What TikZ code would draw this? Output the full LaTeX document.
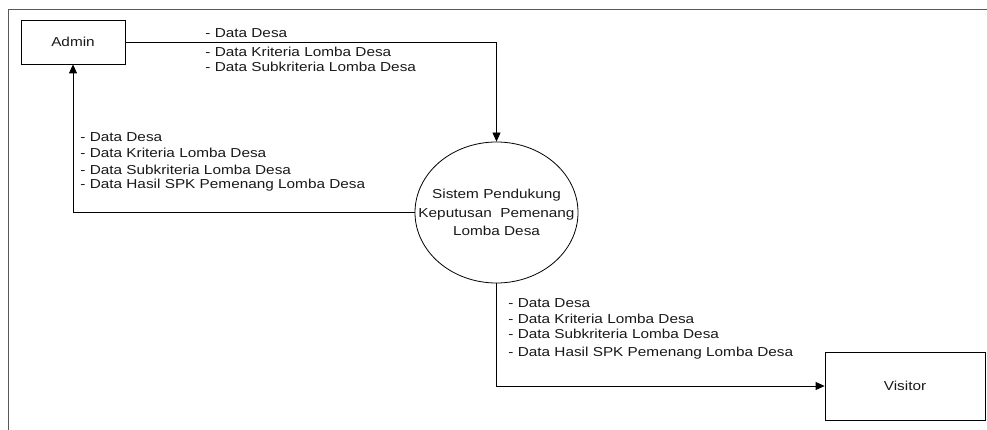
\documentclass[tikz,border=0pt]{standalone}
\usepackage{fontspec}
\setmainfont{Liberation Sans}[FakeStretch=1.18]
\usetikzlibrary{arrows.meta,shapes.geometric}
\begin{document}
\begin{tikzpicture}[x=1pt,y=-1pt,line width=0.8pt,
  txt/.style={font=\fontsize{13}{16}\selectfont,text=black!90},
  lbl/.style={txt,inner sep=0pt,anchor=base west},
  ent/.style={draw,txt,inner sep=0pt},
  proc/.style={draw,ellipse,inner sep=0pt,minimum width=163pt,minimum height=141pt},
  proctxt/.style={txt,font=\fontsize{13}{18.5}\selectfont,align=center,inner sep=0pt},
  flow/.style={-{Triangle[length=9pt,width=8pt]}},
  frame/.style={draw=black!65,line width=1pt}]
\useasboundingbox (0,0) rectangle (987,430);
\draw[frame] (8,431) -- (8,10) -- (988,10);
% entities and process
\node[ent,minimum width=104pt,minimum height=44pt] (admin) at (73,42) {Admin};
\node[ent,minimum width=160pt,minimum height=68pt] (visitor) at (905,386) {Visitor};
\node[proc] (sys) at (496.5,212.5) {};
\node[proctxt] (systxt) at (sys.center) {Sistem Pendukung\\Keputusan~ Pemenang\\Lomba Desa};
% flows
\draw[flow] (admin.east) -| (sys.north);
\draw[flow] (sys.west) -| (admin.south);
\draw[flow] (sys.south) |- (visitor.west);
% labels: admin -> system
\node[lbl] (t1) at (205,38) {- Data Desa};
\node[lbl] (t2) at (205,56.5) {- Data Kriteria Lomba Desa};
\node[lbl] (t3) at (205,71.5) {- Data Subkriteria Lomba Desa};
% labels: system -> admin
\node[lbl] (l1) at (80,142) {- Data Desa};
\node[lbl] (l2) at (80,157.5) {- Data Kriteria Lomba Desa};
\node[lbl] (l3) at (80,174.5) {- Data Subkriteria Lomba Desa};
\node[lbl] (l4) at (80,189) {- Data Hasil SPK Pemenang Lomba Desa};
% labels: system -> visitor
\node[lbl] (b1) at (508,307) {- Data Desa};
\node[lbl] (b2) at (508,323) {- Data Kriteria Lomba Desa};
\node[lbl] (b3) at (508,338.5) {- Data Subkriteria Lomba Desa};
\node[lbl] (b4) at (508,356) {- Data Hasil SPK Pemenang Lomba Desa};
\end{tikzpicture}
\end{document}
